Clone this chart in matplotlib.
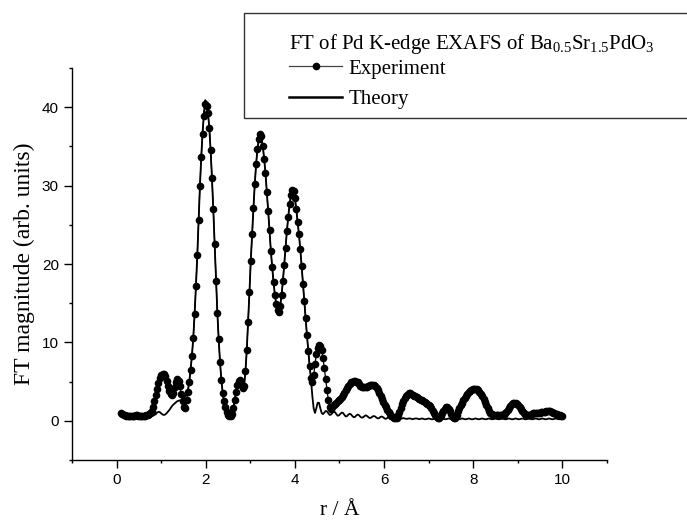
import numpy as np
import matplotlib
matplotlib.use("Agg")
import matplotlib.pyplot as plt
from matplotlib.lines import Line2D
from matplotlib.patches import Rectangle

# ---------------- data ----------------
r_start = 0.10   # Å
r_step = 0.03    # Å

experiment = [
    1.0, 0.9, 0.8, 0.7, 0.65, 0.6, 0.6, 0.6, 0.6, 0.6,            # 0.10
    0.65, 0.7, 0.7, 0.65, 0.6, 0.55, 0.55, 0.6, 0.65, 0.7,        # 0.40
    0.75, 0.85, 1.0, 1.3, 1.8, 2.5, 3.3, 4.1, 4.8, 5.4,           # 0.70
    5.8, 6.0, 6.0, 5.7, 5.1, 4.4, 3.8, 3.4, 3.3, 3.6,             # 1.00
    4.3, 5.0, 5.3, 5.1, 4.4, 3.4, 2.5, 1.8, 1.6, 2.6,             # 1.30
    3.7, 5.0, 6.5, 8.3, 10.6, 13.6, 17.2, 21.1, 25.6, 30.0,       # 1.60
    33.7, 36.6, 38.9, 40.4, 40.1, 39.2, 37.4, 34.6, 31.0, 27.0,   # 1.90
    22.5, 17.8, 13.8, 10.4, 7.5, 5.2, 3.6, 2.5, 1.7, 1.1,         # 2.20
    0.7, 0.55, 0.6, 0.9, 1.6, 2.6, 3.7, 4.6, 5.1, 5.2,            # 2.50
    4.8, 4.2, 4.4, 6.3, 9.0, 12.6, 16.4, 20.4, 23.8, 27.2,        # 2.80
    30.2, 32.8, 34.7, 36.0, 36.6, 36.3, 35.1, 33.4, 31.6, 29.2,   # 3.10
    26.8, 24.3, 21.7, 19.6, 17.7, 16.1, 14.9, 14.1, 13.9, 14.7,   # 3.40
    16.0, 17.8, 19.9, 22.1, 24.2, 26.0, 27.6, 28.8, 29.5, 29.3,   # 3.70
    28.4, 27.0, 25.4, 23.8, 21.9, 19.8, 17.5, 15.3, 13.1, 10.9,   # 4.00
    8.9, 7.0, 5.5, 5.0, 5.8, 7.2, 8.5, 9.3, 9.7, 9.6,             # 4.30
    9.0, 8.0, 6.7, 5.3, 3.9, 2.6, 1.7, 1.5, 1.8, 2.0,             # 4.60
    2.2, 2.3, 2.5, 2.6, 2.8, 3.0, 3.3, 3.6, 3.9, 4.2,             # 4.90
    4.5, 4.7, 4.9, 5.0, 5.05, 5.05, 5.0, 4.9, 4.7, 4.5,           # 5.20
    4.35, 4.3, 4.3, 4.3, 4.35, 4.45, 4.55, 4.6, 4.6, 4.55,        # 5.50
    4.45, 4.2, 3.9, 3.55, 3.2, 2.8, 2.4, 2.05, 1.7, 1.4,          # 5.80
    1.1, 0.85, 0.65, 0.5, 0.4, 0.35, 0.4, 0.7, 1.1, 1.6,          # 6.10
    2.1, 2.5, 2.85, 3.15, 3.35, 3.5, 3.5, 3.45, 3.35, 3.2,        # 6.40
    3.1, 3.0, 2.9, 2.8, 2.7, 2.6, 2.5, 2.4, 2.3, 2.2,             # 6.70
    2.05, 1.85, 1.6, 1.3, 1.0, 0.7, 0.45, 0.3, 0.3, 0.55,         # 7.00
    0.95, 1.3, 1.55, 1.7, 1.7, 1.5, 1.2, 0.85, 0.5, 0.3,          # 7.30
    0.3, 0.7, 1.2, 1.6, 2.0, 2.3, 2.6, 2.9, 3.2, 3.45,            # 7.60
    3.65, 3.8, 3.9, 4.0, 4.05, 4.05, 4.0, 3.9, 3.7, 3.45,         # 7.90
    3.15, 2.8, 2.4, 2.0, 1.6, 1.3, 1.05, 0.85, 0.75, 0.7,         # 8.20
    0.7, 0.7, 0.7, 0.7, 0.7, 0.75, 0.8, 0.95, 1.15, 1.4,          # 8.50
    1.65, 1.9, 2.1, 2.25, 2.3, 2.3, 2.2, 2.0, 1.8, 1.55,          # 8.80
    1.3, 1.05, 0.85, 0.75, 0.7, 0.7, 0.75, 0.85, 0.95, 1.0,       # 9.10
    1.0, 1.05, 1.05, 1.05, 1.1, 1.1, 1.1, 1.15, 1.2, 1.25,        # 9.40
    1.25, 1.2, 1.15, 1.05, 0.95, 0.9, 0.85, 0.8, 0.7, 0.65,       # 9.70
    0.6,                                                          # 10.00
]

theory = [
    0.8, 0.75, 0.7, 0.65, 0.6, 0.55, 0.55, 0.55, 0.55, 0.55,      # 0.10
    0.6, 0.6, 0.6, 0.55, 0.5, 0.5, 0.5, 0.5, 0.55, 0.6,           # 0.40
    0.6, 0.6, 0.6, 0.6, 0.65, 0.75, 0.85, 1.05, 1.15, 1.1,        # 0.70
    0.95, 0.8, 0.75, 0.8, 0.95, 1.15, 1.35, 1.6, 1.85, 2.05,      # 1.00
    2.2, 2.35, 2.5, 2.55, 2.6, 2.6, 2.65, 2.9, 3.1, 3.4,          # 1.30
    3.9, 5.0, 6.5, 8.3, 10.6, 13.6, 17.2, 21.1, 25.6, 30.0,       # 1.60
    33.8, 36.9, 39.4, 40.9, 40.5, 39.3, 37.3, 34.4, 30.8, 26.8,   # 1.90
    22.4, 17.8, 13.8, 10.4, 7.5, 5.2, 3.6, 2.5, 1.7, 1.1,         # 2.20
    0.75, 0.6, 0.65, 0.95, 1.6, 2.6, 3.7, 4.6, 5.1, 5.2,          # 2.50
    4.8, 4.3, 4.5, 6.3, 9.0, 12.6, 16.4, 20.4, 23.8, 27.2,        # 2.80
    30.2, 32.8, 34.7, 35.9, 36.3, 36.0, 35.0, 33.4, 31.6, 29.2,   # 3.10
    26.8, 24.3, 21.7, 19.6, 17.7, 16.1, 14.9, 14.1, 13.9, 14.7,   # 3.40
    16.0, 17.8, 19.9, 22.1, 24.2, 26.0, 27.6, 28.8, 29.4, 29.2,   # 3.70
    28.4, 27.0, 25.4, 23.8, 21.9, 19.8, 17.5, 15.3, 13.1, 10.9,   # 4.00
    8.9, 7.0, 5.3, 3.2, 1.6, 1.0, 1.6, 2.3, 2.3, 1.6,             # 4.30
    1.0, 0.85, 1.05, 1.25, 1.2, 0.95, 0.75, 0.8, 1.0, 1.15,       # 4.60
    1.1, 0.85, 0.65, 0.7, 0.9, 1.05, 1.0, 0.75, 0.55, 0.6,        # 4.90
    0.8, 0.9, 0.8, 0.6, 0.45, 0.5, 0.7, 0.8, 0.7, 0.5,            # 5.20
    0.4, 0.45, 0.6, 0.7, 0.6, 0.45, 0.35, 0.4, 0.55, 0.6,         # 5.50
    0.55, 0.4, 0.3, 0.35, 0.5, 0.55, 0.45, 0.3, 0.25, 0.35,       # 5.80
    0.45, 0.45, 0.35, 0.25, 0.25, 0.35, 0.4, 0.35, 0.25, 0.25,    # 6.10
    0.3, 0.35, 0.3, 0.25, 0.25, 0.3, 0.3, 0.25, 0.2, 0.25,        # 6.40
    0.3, 0.3, 0.25, 0.2, 0.25, 0.3, 0.25, 0.2, 0.2, 0.25,         # 6.70
    0.3, 0.25, 0.2, 0.2, 0.25, 0.3, 0.25, 0.2, 0.2, 0.25,         # 7.00
    0.3, 0.25, 0.2, 0.2, 0.25, 0.3, 0.25, 0.2, 0.2, 0.25,         # 7.30
    0.3, 0.25, 0.2, 0.2, 0.25, 0.3, 0.25, 0.2, 0.2, 0.25,         # 7.60
    0.3, 0.25, 0.2, 0.2, 0.25, 0.3, 0.25, 0.2, 0.2, 0.25,         # 7.90
    0.3, 0.25, 0.2, 0.2, 0.25, 0.3, 0.25, 0.2, 0.2, 0.25,         # 8.20
    0.3, 0.25, 0.2, 0.2, 0.25, 0.3, 0.25, 0.2, 0.2, 0.25,         # 8.50
    0.3, 0.25, 0.2, 0.2, 0.25, 0.3, 0.25, 0.2, 0.2, 0.25,         # 8.80
    0.3, 0.25, 0.2, 0.2, 0.25, 0.3, 0.25, 0.2, 0.2, 0.25,         # 9.10
    0.3, 0.25, 0.2, 0.2, 0.25, 0.3, 0.25, 0.2, 0.2, 0.25,         # 9.40
    0.3, 0.25, 0.2, 0.2, 0.25, 0.3, 0.25, 0.2, 0.2, 0.25,         # 9.70
    0.25,                                                         # 10.00
]

r = np.round(r_start + r_step * np.arange(len(experiment)), 3)

x_major = [0, 2, 4, 6, 8, 10]
y_major = [0, 10, 20, 30, 40]

title_text = r"FT of Pd K-edge EXAFS of Ba$_{\mathrm{0.5}}$Sr$_{\mathrm{1.5}}$PdO$_{\mathrm{3}}$"
labels = ["Experiment", "Theory"]

# ---------------- figure ----------------
plt.rcParams["font.family"] = ["Liberation Sans", "DejaVu Sans"]
plt.rcParams["mathtext.fontset"] = "custom"
plt.rcParams["mathtext.rm"] = "Liberation Serif"
plt.rcParams["mathtext.it"] = "Liberation Serif:italic"
plt.rcParams["mathtext.bf"] = "Liberation Serif:bold"

fig = plt.figure(figsize=(6.87, 5.21), dpi=100)
ax = fig.add_axes([72 / 687, 61 / 521, 535 / 687, 392 / 521])

ax.plot(r, theory, color="black", lw=1.3, zorder=2)
ax.plot(r, experiment, color="black", lw=0.9, marker="o", ms=5.5,
        mec="black", mfc="black", mew=0, zorder=3)

ax.set_xlim(-1, 11)
ax.set_ylim(-5, 45)
ax.set_xticks(x_major)
ax.set_xticks([-1, 1, 3, 5, 7, 9, 11], minor=True)
ax.set_yticks(y_major)
ax.set_yticks([-5, 5, 15, 25, 35, 45], minor=True)

for s in ["top", "right"]:
    ax.spines[s].set_visible(False)
for s in ["left", "bottom"]:
    ax.spines[s].set_linewidth(1.0)

ax.tick_params(which="major", direction="out", length=5.5, width=1.0,
               labelsize=11, pad=4)
ax.tick_params(which="minor", direction="out", length=2.5, width=1.0)

serif = ["Liberation Serif", "DejaVu Serif"]
ax.set_xlabel("r / Å", family=serif, fontsize=15.5, labelpad=10)
ax.set_ylabel("FT magnitude (arb. units)", family=serif, fontsize=17, labelpad=5)

# legend box (extends past the right edge of the figure)
box = Rectangle((244 / 687, 1 - 118 / 521), 1.0, (118 - 13) / 521,
                transform=fig.transFigure, facecolor="white",
                edgecolor="#333333", lw=1.0, zorder=5)
fig.add_artist(box)

fig.text(289 / 687, 1 - 44 / 521, title_text, ha="left", va="center",
         family=serif, fontsize=15, zorder=6)

handles = [
    Line2D([], [], color="#444444", lw=0.9, marker="o", ms=4.5,
           mfc="black", mec="black"),
    Line2D([], [], color="black", lw=1.8),
]
leg = fig.legend(handles, labels, loc="upper left",
                 bbox_to_anchor=(289 / 687, 1 - 59 / 521),
                 frameon=False, borderpad=0, borderaxespad=0,
                 handlelength=2.55, handletextpad=0.3, labelspacing=0.52,
                 prop={"family": "Liberation Serif", "size": 15})
leg.set_zorder(6)

fig.savefig("out.png", dpi=100)
